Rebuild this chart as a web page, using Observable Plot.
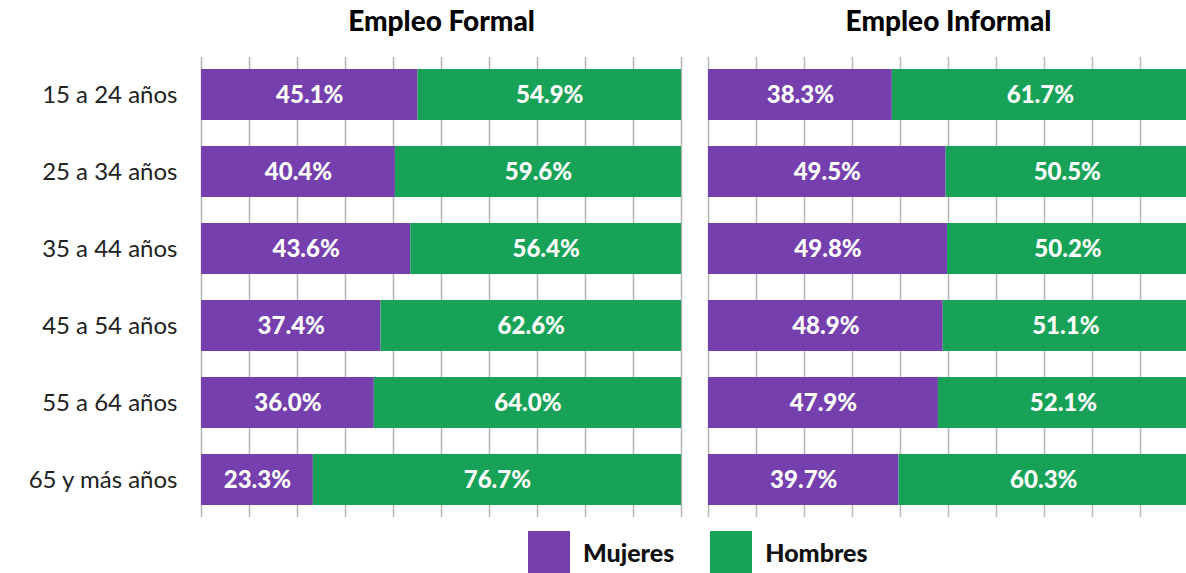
<!DOCTYPE html>
<html>
<head>
<meta charset="utf-8">
<script src="https://cdn.jsdelivr.net/npm/d3@7"></script>
<script src="https://cdn.jsdelivr.net/npm/@observablehq/plot@0.6"></script>
<style>
  html, body { margin: 0; padding: 0; background: #fff; }
  #chart svg { display: block; }
  .legend { display: flex; align-items: center; padding-left: 528px; margin-top: 4px; height: 42px;
            font-family: Lato, "Open Sans", sans-serif; font-weight: 900; font-size: 25px; color: #111; }
  .sw { width: 42px; height: 42px; display: inline-block; margin-right: 13px; }
  .item { display: flex; align-items: center; margin-right: 36px; }
</style>
</head>
<body>
<div id="chart"></div>
<div class="legend" id="legend"></div>
<script>
const ages = ["15 a 24 años", "25 a 34 años", "35 a 44 años", "45 a 54 años", "55 a 64 años", "65 y más años"];
const tipos = ["Empleo Formal", "Empleo Informal"];
const sexos = ["Mujeres", "Hombres"];
const colores = ["#763fae", "#18a257"];
const formalMujeres = [45.1, 40.4, 43.6, 37.4, 36.0, 23.3];
const formalHombres = [54.9, 59.6, 56.4, 62.6, 64.0, 76.7];
const informalMujeres = [38.3, 49.5, 49.8, 48.9, 47.9, 39.7];
const informalHombres = [61.7, 50.5, 50.2, 51.1, 52.1, 60.3];
const gridTicks = [0, 10, 20, 30, 40, 50, 60, 70, 80, 90, 100];

const series = {
  "Empleo Formal": {Mujeres: formalMujeres, Hombres: formalHombres},
  "Empleo Informal": {Mujeres: informalMujeres, Hombres: informalHombres}
};
const data = [];
for (const t of tipos) for (const s of sexos) ages.forEach((a, i) => data.push({tipo: t, sexo: s, edad: a, valor: series[t][s][i]}));

const chart = Plot.plot({
  width: 1186,
  height: 527,
  marginLeft: 200,
  marginRight: -3,
  marginTop: 57,
  marginBottom: 10,
  style: {fontFamily: "Lato, 'Open Sans', sans-serif", background: "#fff"},
  fx: {domain: tipos, padding: 0.0531, axis: null},
  x: {domain: [0, 100], axis: null},
  y: {domain: ages, paddingInner: 0.344, paddingOuter: 0.155, label: null},
  color: {domain: sexos, range: colores},
  marks: [
    Plot.ruleX(gridTicks, {x: d => d, stroke: "#b5b5b5", strokeWidth: 1.5}),
    Plot.barX(data, Plot.stackX({fx: "tipo", y: "edad", x: "valor", fill: "sexo"})),
    Plot.textX(data, Plot.stackX({fx: "tipo", y: "edad", x: "valor", text: d => d.valor.toFixed(1) + "%",
      fill: "white", fontSize: 24, fontWeight: 900})),
    Plot.axisY({tickSize: 0, tickPadding: 24, fontSize: 24, fontWeight: 400, color: "#222", label: null}),
    Plot.text(tipos, {fx: d => d, text: d => d, frameAnchor: "top", lineAnchor: "middle", dy: -35,
      fontSize: 28, fontWeight: 900, fill: "#000"})
  ]
});
document.getElementById("chart").append(chart);

const legend = document.getElementById("legend");
sexos.forEach((s, i) => {
  const item = document.createElement("span");
  item.className = "item";
  const sw = document.createElement("span");
  sw.className = "sw";
  sw.style.background = colores[i];
  item.append(sw, document.createTextNode(s));
  legend.append(item);
});
</script>
</body>
</html>
